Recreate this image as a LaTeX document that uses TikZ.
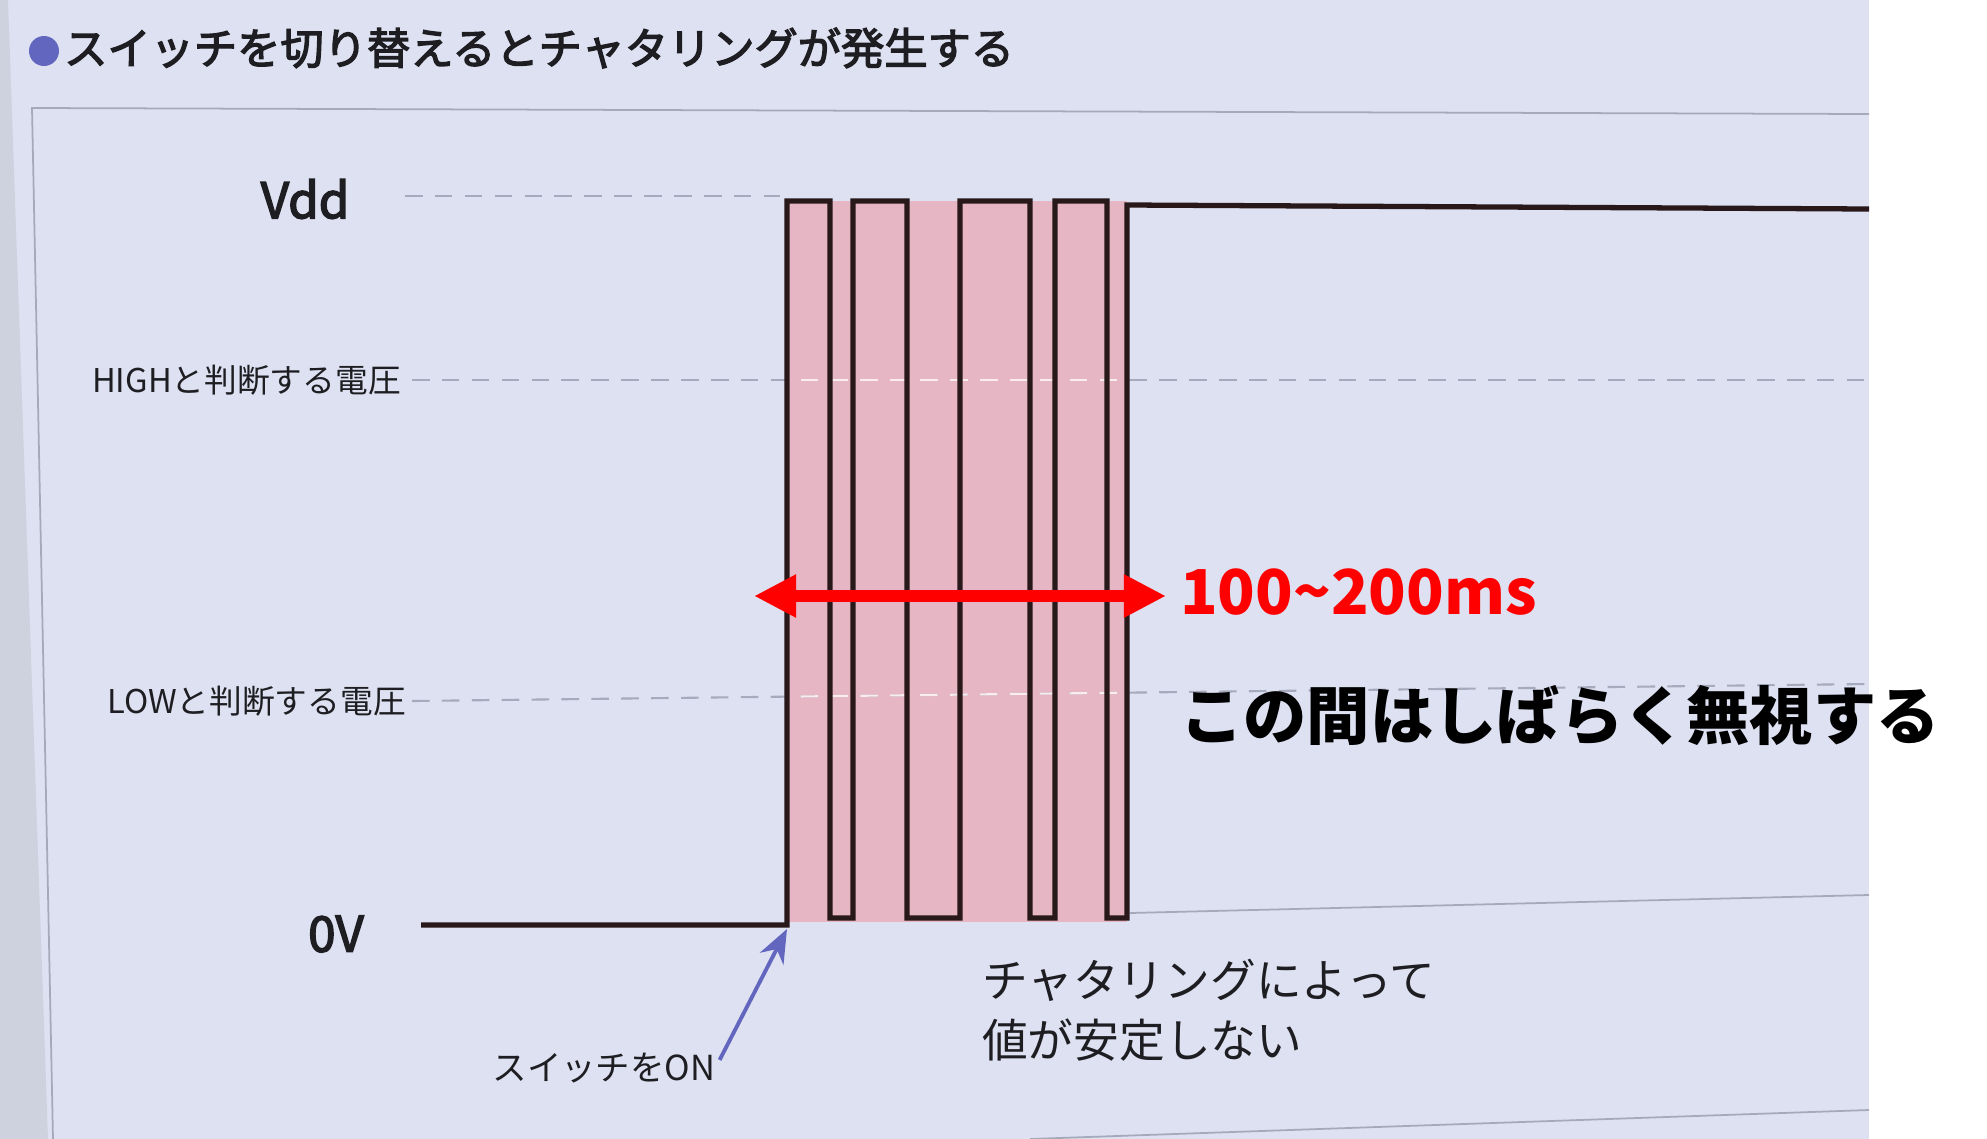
\documentclass[tikz,border=0pt]{standalone}
\usepackage{fontspec}
\setmainfont{Noto Sans CJK JP}
\newfontfamily\medfont{Noto Sans CJK JP}[FakeBold=3]
\usetikzlibrary{arrows.meta}
\definecolor{paper}{RGB}{221,225,241}
\definecolor{edge}{RGB}{206,210,223}
\definecolor{frame}{RGB}{165,170,186}
\definecolor{guide}{RGB}{165,170,188}
\definecolor{bounce}{RGB}{230,182,197}
\definecolor{trace}{RGB}{40,24,26}
\definecolor{violet}{RGB}{98,102,190}
\definecolor{ink}{RGB}{30,30,34}

\begin{document}
\begin{tikzpicture}[x=0.01cm, y=-0.01cm,
    lbl/.style={text=ink, inner sep=1pt},
    guideline/.style={guide, line width=0.6pt, dash pattern=on 5pt off 3.5pt},
    wave/.style={trace, line width=1.5pt, line join=miter}]
    % page
    \useasboundingbox (0,0) rectangle (1987,1139);
    \fill[paper] (0,0) rectangle (1869,1139);
    \fill[white] (1869,0) rectangle (1987,1139);
    \fill[edge] (0,0) -- (8,0) -- (48,1139) -- (0,1139) -- cycle;
    \draw[frame, line width=0.5pt] (53,1139) -- (32,108) -- (1869,114);
    \draw[frame, line width=0.5pt] (1030,1139) -- (1869,1110);
    \draw[frame, line width=0.5pt] (1130,913) -- (1869,895);

    % title
    \fill[violet] (44,51) circle (15);
    \node[lbl, anchor=west, font=\fontsize{12.3}{14}\medfont] (title) at (60,48) {スイッチを切り替えるとチャタリングが発生する};

    % levels
    \node[lbl, font=\fontsize{14}{16}\medfont] (vdd) at (305,199) {Vdd};
    \node[lbl, anchor=east, font=\fontsize{9.3}{11}\selectfont] (high) at (405,380) {HIGHと判断する電圧};
    \node[lbl, anchor=east, font=\fontsize{9.3}{11}\selectfont] (low) at (410,701) {LOWと判断する電圧};
    \node[lbl, font=\fontsize{14}{16}\medfont] (zero) at (336,934) {0V};

    % bouncing region
    \fill[bounce] (787,201) rectangle (1127,922);
    \draw[guideline] (405,196) -- (780,196);
    \foreach \ya/\yb in {380/380, 701/684}
        \draw[guideline] (412,\ya) -- (1869,\yb);
    \begin{scope}
        \clip (787,201) rectangle (1127,922);
        \foreach \ya/\yb in {380/380, 701/684}
            \draw[guideline, white!75!bounce] (412,\ya) -- (1869,\yb);
    \end{scope}

    % signal
    \draw[wave] (421,925) -- (787,925) -- (787,201) -- (830,201) -- (830,918)
        -- (853,918) -- (853,201) -- (907,201) -- (907,918) -- (960,918)
        -- (960,201) -- (1030,201) -- (1030,918) -- (1055,918) -- (1055,201)
        -- (1107,201) -- (1107,918) -- (1127,918) -- (1127,205) -- (1869,209);

    % duration
    \coordinate (tl) at (754,596);
    \coordinate (tr) at (1166,596);
    \draw[red, line width=3.4pt, {Triangle[length=12pt,width=11.5pt]}-{Triangle[length=12pt,width=11.5pt]}] (tl) -- (tr);
    \node[text=red, anchor=west, inner sep=1pt, font=\fontsize{17.6}{20}\selectfont\bfseries] (time) at (1176,592) {100\textasciitilde200ms};
    \node[text=black, anchor=west, inner sep=1pt, font=\fontsize{18}{20}\selectfont\bfseries] (ignore) at (1176,716) {この間はしばらく無視する};

    % notes
    \node[lbl, anchor=west, align=left, font=\fontsize{13}{17}\selectfont] (chat) at (978,1010) {チャタリングによって\\値が安定しない};
    \node[lbl, font=\fontsize{9.8}{11}\selectfont] (swon) at (604,1068) {スイッチをON};
    \coordinate (on) at (787,929);
    \draw[violet, line width=1.1pt, -{Stealth[length=9.5pt,width=7.5pt]}] (swon.4) -- (on);
\end{tikzpicture}
\end{document}
